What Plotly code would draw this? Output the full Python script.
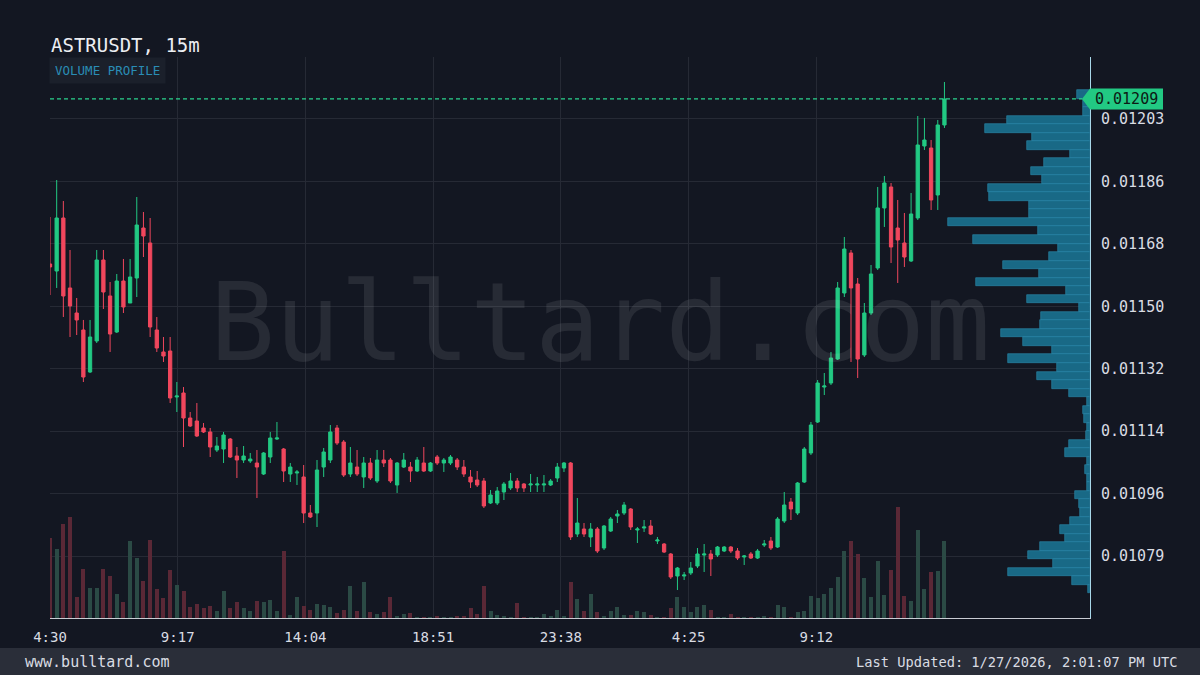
import numpy as np
import pandas as pd
import plotly.graph_objects as go

SYMBOL = "ASTRUSDT"
INTERVAL = "15m"
START = "2026-01-26 04:30"
SITE = "www.bulltard.com"
WATERMARK = "Bulltard.com"
LAST_UPDATED = "Last Updated: 1/27/2026, 2:01:07 PM UTC"

OPEN = [
    0.0116186, 0.0115987, 0.0117491, 0.0115505, 0.0114795, 0.0114313, 0.0113121, 0.0114001, 0.0116299, 0.0115278,
    0.0114256, 0.0115703, 0.0115079, 0.0115788, 0.0117207, 0.0116782, 0.0114313, 0.0113689, 0.0113717, 0.0112412,
    0.0112525, 0.0111816, 0.0111731, 0.0111532, 0.0111419, 0.0110908, 0.0110936, 0.0111220, 0.0110738, 0.0110624,
    0.0110596, 0.0110539, 0.0110227, 0.0110709, 0.0111220, 0.0110936, 0.0110227, 0.0110255, 0.0110142, 0.0109120,
    0.0109120, 0.0110425, 0.0110624, 0.0111532, 0.0111135, 0.0110227, 0.0110425, 0.0110142, 0.0110539, 0.0110028,
    0.0110624, 0.0110624, 0.0109915, 0.0110425, 0.0110425, 0.0110312, 0.0110539, 0.0110312, 0.0110709, 0.0110539,
    0.0110539, 0.0110624, 0.0110425, 0.0110142, 0.0110057, 0.0110028, 0.0109404, 0.0109404, 0.0109716, 0.0109830,
    0.0110028, 0.0109943, 0.0109915, 0.0109915, 0.0109915, 0.0109915, 0.0110113, 0.0110397, 0.0110539, 0.0108524,
    0.0108666, 0.0108439, 0.0108666, 0.0108127, 0.0108609, 0.0109035, 0.0109120, 0.0109234, 0.0108638, 0.0108694,
    0.0108751, 0.0108326, 0.0108240, 0.0107957, 0.0107332, 0.0107332, 0.0107418, 0.0107616, 0.0107928, 0.0107957,
    0.0107928, 0.0108042, 0.0108155, 0.0108042, 0.0107872, 0.0107957, 0.0107843, 0.0108212, 0.0108326, 0.0108155,
    0.0108893, 0.0109432, 0.0109120, 0.0110000, 0.0110823, 0.0111702, 0.0112695, 0.0112809, 0.0113490, 0.0115363,
    0.0116498, 0.0115618, 0.0113604, 0.0114795, 0.0116072, 0.0117775, 0.0118371, 0.0117207, 0.0116782, 0.0116271,
    0.0117491, 0.0119534, 0.0119477, 0.0118144, 0.0120130,
]
HIGH = [
    0.0117519, 0.0118569, 0.0117973, 0.0116583, 0.0115221, 0.0114597, 0.0114597, 0.0116583, 0.0116583, 0.0115675,
    0.0115902, 0.0116328, 0.0116328, 0.0118087, 0.0117661, 0.0117491, 0.0114682, 0.0114114, 0.0114114, 0.0112837,
    0.0112695, 0.0111986, 0.0112241, 0.0111674, 0.0111532, 0.0111277, 0.0111419, 0.0111248, 0.0110993, 0.0111021,
    0.0110823, 0.0110908, 0.0110851, 0.0111419, 0.0111702, 0.0110965, 0.0110539, 0.0110340, 0.0110482, 0.0109347,
    0.0110624, 0.0110965, 0.0111617, 0.0111617, 0.0111192, 0.0110993, 0.0110908, 0.0110709, 0.0110681, 0.0110908,
    0.0110908, 0.0110681, 0.0110567, 0.0110823, 0.0110567, 0.0110709, 0.0110993, 0.0110567, 0.0110766, 0.0110681,
    0.0110766, 0.0110681, 0.0110624, 0.0110340, 0.0110312, 0.0110113, 0.0109773, 0.0109858, 0.0110000, 0.0110255,
    0.0110113, 0.0109971, 0.0110227, 0.0110142, 0.0110198, 0.0110085, 0.0110539, 0.0110567, 0.0110567, 0.0109546,
    0.0108836, 0.0108836, 0.0108723, 0.0108780, 0.0109007, 0.0109205, 0.0109432, 0.0109262, 0.0108723, 0.0108921,
    0.0108921, 0.0108439, 0.0108269, 0.0107985, 0.0107588, 0.0107446, 0.0107730, 0.0108127, 0.0108240, 0.0108070,
    0.0108184, 0.0108184, 0.0108184, 0.0108127, 0.0107928, 0.0108013, 0.0108099, 0.0108354, 0.0108439, 0.0109007,
    0.0109716, 0.0109546, 0.0110000, 0.0110993, 0.0111702, 0.0112894, 0.0113093, 0.0113689, 0.0115675, 0.0116952,
    0.0116583, 0.0115788, 0.0115079, 0.0116157, 0.0118371, 0.0118683, 0.0118484, 0.0118002, 0.0117633, 0.0118200,
    0.0120385, 0.0120329, 0.0119704, 0.0120272, 0.0121350,
]
LOW = [
    0.0115306, 0.0115505, 0.0114682, 0.0114114, 0.0114171, 0.0112837, 0.0113093, 0.0113944, 0.0114909, 0.0113689,
    0.0114228, 0.0114795, 0.0115079, 0.0115249, 0.0116384, 0.0114114, 0.0113689, 0.0113405, 0.0112241, 0.0111986,
    0.0110993, 0.0111560, 0.0111277, 0.0111390, 0.0110709, 0.0110851, 0.0110539, 0.0110681, 0.0110113, 0.0110539,
    0.0110539, 0.0109546, 0.0110198, 0.0110539, 0.0111192, 0.0110000, 0.0110000, 0.0109915, 0.0108836, 0.0108978,
    0.0108723, 0.0110142, 0.0110539, 0.0111050, 0.0110142, 0.0110142, 0.0110170, 0.0109830, 0.0110057, 0.0109971,
    0.0110425, 0.0109971, 0.0109688, 0.0110397, 0.0110000, 0.0110284, 0.0110284, 0.0110284, 0.0110482, 0.0110284,
    0.0110482, 0.0110340, 0.0110142, 0.0109830, 0.0109858, 0.0109262, 0.0109375, 0.0109347, 0.0109489, 0.0109773,
    0.0109716, 0.0109716, 0.0109716, 0.0109716, 0.0109716, 0.0109886, 0.0110000, 0.0110284, 0.0108354, 0.0108439,
    0.0108439, 0.0108155, 0.0107985, 0.0108070, 0.0108581, 0.0108836, 0.0109063, 0.0108638, 0.0108269, 0.0108581,
    0.0108496, 0.0108240, 0.0107985, 0.0107247, 0.0106935, 0.0107219, 0.0107361, 0.0107559, 0.0107446, 0.0107332,
    0.0107872, 0.0108013, 0.0107985, 0.0107786, 0.0107645, 0.0107815, 0.0107815, 0.0108155, 0.0108070, 0.0108127,
    0.0108836, 0.0108921, 0.0109063, 0.0109971, 0.0110766, 0.0111674, 0.0112468, 0.0112752, 0.0113462, 0.0115249,
    0.0113405, 0.0112951, 0.0113547, 0.0114739, 0.0116016, 0.0117236, 0.0116214, 0.0115647, 0.0116101, 0.0116243,
    0.0117434, 0.0119421, 0.0117718, 0.0117718, 0.0120045,
]
CLOSE = [
    0.0116101, 0.0117491, 0.0115278, 0.0114994, 0.0114597, 0.0112979, 0.0114114, 0.0116299, 0.0115391, 0.0114199,
    0.0115703, 0.0114966, 0.0115817, 0.0117292, 0.0116980, 0.0114398, 0.0113802, 0.0113575, 0.0112383, 0.0112440,
    0.0111816, 0.0111589, 0.0111305, 0.0111419, 0.0110993, 0.0111021, 0.0111333, 0.0110709, 0.0110624, 0.0110738,
    0.0110652, 0.0110425, 0.0110823, 0.0111248, 0.0111248, 0.0110312, 0.0110425, 0.0110284, 0.0109120, 0.0109007,
    0.0110340, 0.0110851, 0.0111419, 0.0111106, 0.0110198, 0.0110539, 0.0110227, 0.0110539, 0.0110113, 0.0110624,
    0.0110539, 0.0110028, 0.0110539, 0.0110624, 0.0110312, 0.0110624, 0.0110312, 0.0110539, 0.0110539, 0.0110624,
    0.0110709, 0.0110425, 0.0110227, 0.0110000, 0.0109915, 0.0109319, 0.0109631, 0.0109744, 0.0109943, 0.0110028,
    0.0109830, 0.0109830, 0.0109943, 0.0109943, 0.0109943, 0.0110028, 0.0110425, 0.0110539, 0.0108439, 0.0108836,
    0.0108524, 0.0108666, 0.0108042, 0.0108751, 0.0108950, 0.0109092, 0.0109347, 0.0108723, 0.0108666, 0.0108723,
    0.0108524, 0.0108354, 0.0108013, 0.0107304, 0.0107559, 0.0107361, 0.0107559, 0.0107957, 0.0107957, 0.0107815,
    0.0108155, 0.0108155, 0.0108042, 0.0107843, 0.0107900, 0.0107843, 0.0108042, 0.0108240, 0.0108127, 0.0108950,
    0.0109347, 0.0109234, 0.0109971, 0.0110936, 0.0111617, 0.0112809, 0.0112724, 0.0113518, 0.0115505, 0.0116611,
    0.0115505, 0.0113490, 0.0114795, 0.0115902, 0.0117775, 0.0118484, 0.0116668, 0.0116867, 0.0116384, 0.0117605,
    0.0119563, 0.0119704, 0.0118002, 0.0120130, 0.0120868,
]
# traded volume per candle, thousands
VOLUME_K = [
    80, 69, 94, 101, 21, 49, 30, 30, 49, 42,
    24, 16, 77, 60, 37, 78, 29, 20, 48, 33,
    27, 11, 14, 10, 12, 7, 27, 10, 16, 10,
    7, 17, 16, 18, 7, 67, 3, 21, 12, 8,
    14, 13, 11, 5, 8, 32, 7, 36, 6, 4,
    6, 21, 2, 4, 5, 1, 1, 1, 2, 1,
    1, 2, 2, 10, 4, 32, 7, 3, 2, 1,
    15, 1, 0.5, 1, 4, 2, 8, 2, 36, 19,
    7, 24, 6, 2, 7, 11, 3, 3, 7, 6,
    3, 1, 1, 10, 21, 11, 6, 11, 13, 8,
    1, 0.5, 4, 0.5, 0.5, 0.5, 0.5, 2, 1, 13,
    11, 0.5, 6, 7, 22, 20, 24, 30, 41, 67,
    77, 64, 40, 21, 57, 23, 48, 111, 22, 17,
    88, 29, 46, 47, 77,
]
# volume profile rows, from the highest price bin down to the lowest
PROFILE_VOL = [
    133, 67, 67, 833, 1050, 583, 627, 200, 460, 593,
    483, 1023, 1007, 607, 607, 1417, 523, 1167, 317, 407,
    867, 510, 1140, 240, 633, 107, 490, 500, 890, 673,
    383, 817, 333, 527, 383, 207, 33, 73, 60, 33,
    40, 207, 247, 33, 50, 33, 27, 150, 107, 100,
    200, 300, 250, 500, 617, 373, 817, 183, 17,
]
PROFILE_TOP = 0.0121123
PROFILE_BOTTOM = 0.0106842
PRICE_TICK_LABELS = ["0.01079", "0.01096", "0.01114", "0.01132",
                     "0.01150", "0.01168", "0.01186", "0.01203"]
TIME_TICK_STEP_MIN = 287
N_TIME_TICKS = 7

# ---------------- styling ----------------
BG = "#131722"
GRID = "#262a35"
GREEN = "#22c983"
RED = "#f0475d"
VOL_GREEN = "#2b4a45"
VOL_RED = "#5a2836"
PROF_FILL = "#196986"
PROF_LINE = "#2c8db0"
TEXT = "#d9dce3"
FONT = "DejaVu Sans Mono, monospace"

# plot box in page pixels
L, R, T, B = 50, 1090, 57, 618
W, H = R - L, B - T
def px_x(p):
    return (p - L) / W
def px_y(p):
    return (B - p) / H

YMIN, YMAX = 0.0106141, 0.0122059

times = pd.date_range(START, periods=len(OPEN), freq="15min")
vol_colors = [VOL_GREEN if c >= o else VOL_RED for o, c in zip(OPEN, CLOSE)]

n_prof = len(PROFILE_VOL)
bin_h = (PROFILE_TOP - PROFILE_BOTTOM) / n_prof
prof_centers = [PROFILE_TOP - bin_h * (i + 0.5) for i in range(n_prof)]

fig = go.Figure()
fig.add_trace(go.Bar(
    x=times, y=VOLUME_K, marker=dict(color=vol_colors, line=dict(width=0)),
    width=9 * 60 * 1000, xaxis="x", yaxis="y2", showlegend=False, hoverinfo="skip",
))
fig.add_trace(go.Candlestick(
    x=times, open=OPEN, high=HIGH, low=LOW, close=CLOSE,
    increasing=dict(line=dict(color=GREEN, width=1), fillcolor=GREEN),
    decreasing=dict(line=dict(color=RED, width=1), fillcolor=RED),
    whiskerwidth=0, xaxis="x", yaxis="y", showlegend=False,
))
fig.add_trace(go.Bar(
    y=prof_centers, x=PROFILE_VOL, orientation="h", width=bin_h,
    marker=dict(color=PROF_FILL, line=dict(color=PROF_LINE, width=0.6)),
    xaxis="x3", yaxis="y", showlegend=False, hoverinfo="skip",
))

t0 = times[0]
x_end = t0 + pd.Timedelta(minutes=W / 0.4450)
tickvals_x = [t0 + pd.Timedelta(minutes=TIME_TICK_STEP_MIN * k) for k in range(N_TIME_TICKS)]
ticktext_x = [f"{t.hour}:{t.minute:02d}" for t in tickvals_x]
tickvals_y = list(np.linspace(float(PRICE_TICK_LABELS[0]), float(PRICE_TICK_LABELS[-1]),
                              len(PRICE_TICK_LABELS)))

last_close = CLOSE[-1]
yc = (last_close - YMIN) / (YMAX - YMIN)
tag_h = 10.5 / H

fig.update_layout(
    width=1200, height=675, autosize=False,
    margin=dict(l=L, r=1200 - R, t=T, b=675 - B, pad=0),
    paper_bgcolor=BG, plot_bgcolor=BG,
    font=dict(family=FONT, color=TEXT),
    hovermode=False, showlegend=False, bargap=0,
    xaxis=dict(
        type="date", range=[t0, x_end], tickvals=tickvals_x, ticktext=ticktext_x,
        showgrid=True, gridcolor=GRID, gridwidth=1, zeroline=False,
        showline=True, linecolor="#c9ccd4", linewidth=1, ticks="",
        ticklabelstandoff=6, tickfont=dict(family=FONT, size=14, color=TEXT),
        rangeslider=dict(visible=False), fixedrange=True,
    ),
    yaxis=dict(
        side="right", range=[YMIN, YMAX], tickvals=tickvals_y, ticktext=PRICE_TICK_LABELS,
        showgrid=True, gridcolor=GRID, gridwidth=1, zeroline=False,
        showline=True, linecolor="#a8d8ea", linewidth=1, ticks="",
        ticklabelstandoff=7, tickfont=dict(family=FONT, size=15, color=TEXT), fixedrange=True,
    ),
    yaxis2=dict(overlaying="y", range=[0, H], visible=False, fixedrange=True),
    xaxis3=dict(overlaying="x", anchor="y", range=[W * 10, 0], visible=False, fixedrange=True),
)

shapes = [
    # footer band
    dict(type="rect", xref="paper", yref="paper", x0=px_x(0), x1=px_x(1200),
         y0=px_y(675), y1=px_y(648), fillcolor="#2a2e39", line=dict(width=0), layer="below"),
    # last price dashed line
    dict(type="line", xref="paper", yref="y", x0=0, x1=px_x(1082), y0=last_close, y1=last_close,
         line=dict(color="#2bd48d", width=1.2, dash="4px,3px")),
    # last price tag
    dict(type="path", xref="paper", yref="paper",
         path=(f"M {px_x(1082)},{yc} L {px_x(1090)},{yc + tag_h} L {px_x(1163)},{yc + tag_h} "
               f"L {px_x(1163)},{yc - tag_h} L {px_x(1090)},{yc - tag_h} Z"),
         fillcolor=GREEN, line=dict(width=0)),
]
fig.update_layout(shapes=shapes)

annotations = [
    dict(text=WATERMARK, xref="paper", yref="paper", x=px_x(600), y=px_y(322),
         xanchor="center", yanchor="middle", showarrow=False,
         font=dict(family=FONT, size=108, color="rgba(255,255,255,0.085)")),
    dict(text=f"{SYMBOL}, {INTERVAL}", xref="paper", yref="paper", x=px_x(49), y=px_y(45),
         xanchor="left", yanchor="middle", showarrow=False,
         font=dict(family=FONT, size=19, color="#eceef2")),
    dict(text="VOLUME PROFILE", xref="paper", yref="paper", x=px_x(49), y=px_y(71),
         xanchor="left", yanchor="middle", showarrow=False, bgcolor="#1b202b", borderpad=5,
         font=dict(family=FONT, size=12.5, color="#2a8db6")),
    dict(text=f"{last_close:.5f}", xref="paper", yref="paper", x=px_x(1093), y=yc,
         xanchor="left", yanchor="middle", showarrow=False,
         font=dict(family=FONT, size=15, color="#0c1a14")),
    dict(text=SITE, xref="paper", yref="paper", x=px_x(23), y=px_y(662),
         xanchor="left", yanchor="middle", showarrow=False,
         font=dict(family=FONT, size=15, color=TEXT)),
    dict(text=LAST_UPDATED, xref="paper", yref="paper", x=px_x(1179), y=px_y(662),
         xanchor="right", yanchor="middle", showarrow=False,
         font=dict(family=FONT, size=13.7, color=TEXT)),
]
fig.update_layout(annotations=annotations)

fig.write_html("out.html", config={"displayModeBar": False},
               post_script="document.body.style.margin='0px';")
